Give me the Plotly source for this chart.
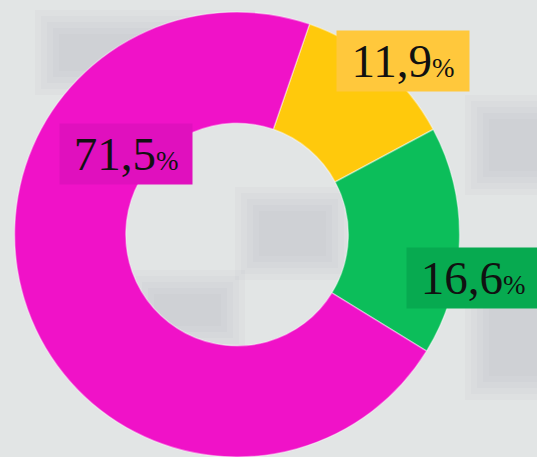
import plotly.graph_objs as go

# slice data (clockwise from the first slice)
labels = ["11,9", "16,6", "71,5"]
values = [11.9, 16.6, 71.5]
slice_colors = ["#FFC90C", "#0CBE5A", "#F012C8"]
box_colors = ["#FFC83C", "#07AA50", "#E010BE"]

# where the data labels sit (paper coords, box centres)
label_x = [0.750, 0.881, 0.235]
label_y = [0.866, 0.392, 0.662]

W, H = 537, 457

fig = go.Figure()

# blurred calculator keys in the backdrop (rough hint only): nested rects give soft edges
keys = [
    (465, 95, 570, 195),
    (465, 285, 570, 400),
    (235, 187, 350, 280),
    (130, 270, 245, 350),
    (35, 10, 255, 95),
]
for x0, y0, x1, y1 in keys:
    for k in range(5):
        d = k * 6
        fig.add_shape(
            type="rect",
            xref="paper",
            yref="paper",
            x0=(x0 + d) / W,
            x1=(x1 - d) / W,
            y0=1 - (y0 + d) / H,
            y1=1 - (y1 - d) / H,
            fillcolor="#aab0b2",
            opacity=0.07,
            line=dict(width=0),
            layer="below",
        )

fig.add_trace(
    go.Pie(
        values=values,
        labels=labels,
        hole=0.5,
        sort=False,
        direction="clockwise",
        rotation=19,
        marker=dict(colors=slice_colors, line=dict(color="rgba(255,255,255,0.4)", width=1.5)),
        textinfo="none",
        hoverinfo="none",
        showlegend=False,
        domain=dict(x=[0.027, 0.856], y=[0.0, 1 - 12 / H]),
    )
)

for lab, bx, x, y in zip(labels, box_colors, label_x, label_y):
    fig.add_annotation(
        x=x,
        y=y,
        xref="paper",
        yref="paper",
        xanchor="center",
        yanchor="middle",
        text=f"{lab}<span style='font-size:27px'>%</span>",
        showarrow=False,
        font=dict(family="Liberation Serif", size=47, color="#111111"),
        bgcolor=bx,
        width=118,
        height=46,
        borderpad=7,
    )

fig.update_layout(
    width=W,
    height=H,
    margin=dict(l=0, r=0, t=0, b=0),
    paper_bgcolor="#e2e5e5",
    plot_bgcolor="#e2e5e5",
)

fig.write_html(
    "out.html",
    config={"displayModeBar": False},
    post_script="document.body.style.margin='0';",
)
